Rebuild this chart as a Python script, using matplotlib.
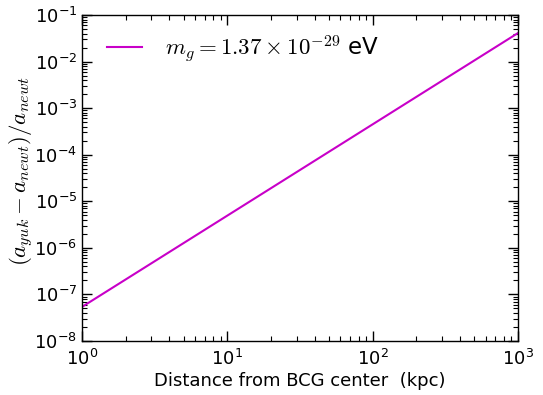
import matplotlib
matplotlib.use("Agg")
import matplotlib.pyplot as plt

# Data: straight power-law line on log-log axes (endpoints)
distance = [1.0, 1000.0]
ratio = [5.4e-8, 4.1e-2]
label = r"$m_g=1.37\times10^{-29}$ eV"

plt.rcParams['mathtext.fontset'] = 'cm'
plt.rcParams['font.size'] = 13

fig = plt.figure(figsize=(5.43, 3.95), dpi=100)
ax = fig.add_axes([82 / 543, 1 - 341 / 395, 436 / 543, 326 / 395])

ax.plot(distance, ratio, color='#c800c8', lw=1.5, label=label)
ax.set_xscale('log')
ax.set_yscale('log')
ax.set_xlim(1, 1000)
ax.set_ylim(1e-8, 1e-1)

ax.tick_params(which='both', direction='in', top=True, right=True, labelsize=13)
ax.tick_params(which='major', length=7, width=1)
ax.tick_params(which='minor', length=3.5, width=0.8)
ax.tick_params(axis='x', which='major', pad=6)
for s in ax.spines.values():
    s.set_linewidth(1.0)

ax.set_xlabel('Distance from BCG center  (kpc)', fontsize=13, labelpad=2)
ax.set_ylabel(r'$(a_{yuk}-a_{newt})/a_{newt}$', fontsize=16.5)
ax.yaxis.set_label_coords(-0.105, 0.52)

ax.legend(loc='upper left', bbox_to_anchor=(0.016, 1.0), frameon=False,
          fontsize=16.5, handlelength=1.5, handletextpad=1.0,
          borderaxespad=0.4, borderpad=0.4)

fig.savefig('out.png', dpi=100)
